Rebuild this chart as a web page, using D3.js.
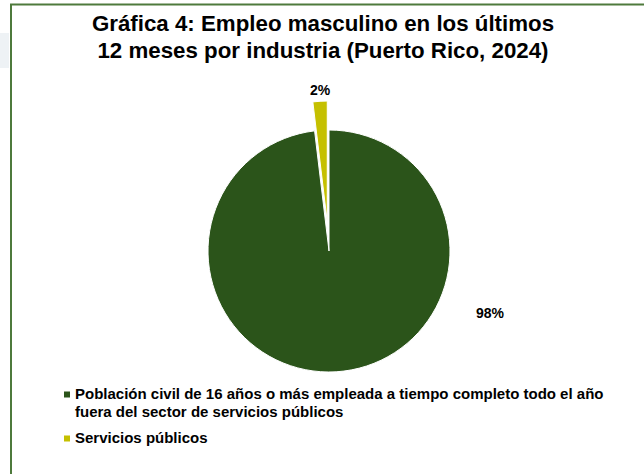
<!DOCTYPE html>
<html>
<head>
<meta charset="utf-8">
<script src="https://cdn.jsdelivr.net/npm/d3@7"></script>
<style>
  html, body { margin: 0; padding: 0; background: #ffffff; }
  svg { display: block; font-family: "Liberation Sans", Arial, sans-serif; }
</style>
</head>
<body>
<svg id="chart" width="644" height="474"></svg>
<script>
// ---- Data ----
const categories = [
  "Población civil de 16 años o más empleada a tiempo completo todo el año fuera del sector de servicios públicos",
  "Servicios públicos"
];
const values = [98.1, 1.9];
const colors = ["#2b541a", "#c5c000"];
const titleLines = [
  "Gráfica 4: Empleo masculino en los últimos",
  "12 meses por industria (Puerto Rico, 2024)"
];
const legendLines = [
  ["Población civil de 16 años o más empleada a tiempo completo todo el año", "fuera del sector de servicios públicos"],
  ["Servicios públicos"]
];

const svg = d3.select("#chart");
const W = 644, H = 474;

// faint panel at left edge
svg.append("rect").attr("x", 0).attr("y", 33).attr("width", 9).attr("height", 35).attr("fill", "#eef2f5");

// chart border
svg.append("path")
  .attr("d", "M11,474 V4.5 H644")
  .attr("fill", "none").attr("stroke", "#4e7a3c").attr("stroke-width", 2);

// title
svg.append("text")
  .attr("x", 323).attr("y", 31)
  .attr("text-anchor", "middle")
  .attr("font-size", 22.3).attr("font-weight", "bold").attr("fill", "#000")
  .selectAll("tspan").data(titleLines).join("tspan")
  .attr("x", 323).attr("dy", (d, i) => i === 0 ? 0 : 26.5)
  .text(d => d);

// pie
const cx = 329, cy = 251, R = 121, explode = 29;
const pie = d3.pie().sort(null).value(d => d).startAngle(0).endAngle(2 * Math.PI);
const arcs = pie(values);
const arc = d3.arc().innerRadius(0).outerRadius(R);
const total = d3.sum(values);

const g = svg.append("g").attr("transform", `translate(${cx},${cy})`);
g.selectAll("path.slice").data(arcs).join("path")
  .attr("class", "slice")
  .attr("d", arc)
  .attr("fill", (d, i) => colors[i])
  .attr("stroke", "#ffffff").attr("stroke-width", 1)
  .attr("transform", (d, i) => {
    if (i !== 1) return null;
    const a = (d.startAngle + d.endAngle) / 2;
    return `translate(${explode * Math.sin(a)},${-explode * Math.cos(a)})`;
  });

// data labels
const labelPos = [[161, 67], [-9, -156]];
g.selectAll("text.lbl").data(arcs).join("text")
  .attr("class", "lbl")
  .attr("x", (d, i) => labelPos[i][0])
  .attr("y", (d, i) => labelPos[i][1])
  .attr("text-anchor", "middle")
  .attr("font-size", 14).attr("font-weight", "bold").attr("fill", "#000")
  .text(d => Math.round(d.data / total * 100) + "%");

// legend
const legBase = [399, 443];
const leg = svg.append("g");
legendLines.forEach((lines, i) => {
  leg.append("rect")
    .attr("x", 64).attr("y", legBase[i] - 7.5)
    .attr("width", 6).attr("height", 6)
    .attr("fill", colors[i]);
  const t = leg.append("text")
    .attr("x", 75).attr("y", legBase[i])
    .attr("font-size", 15).attr("font-weight", "bold").attr("fill", "#000");
  lines.forEach((ln, j) => {
    t.append("tspan").attr("x", 75).attr("dy", j === 0 ? 0 : 17.5).text(ln);
  });
});
</script>
</body>
</html>
